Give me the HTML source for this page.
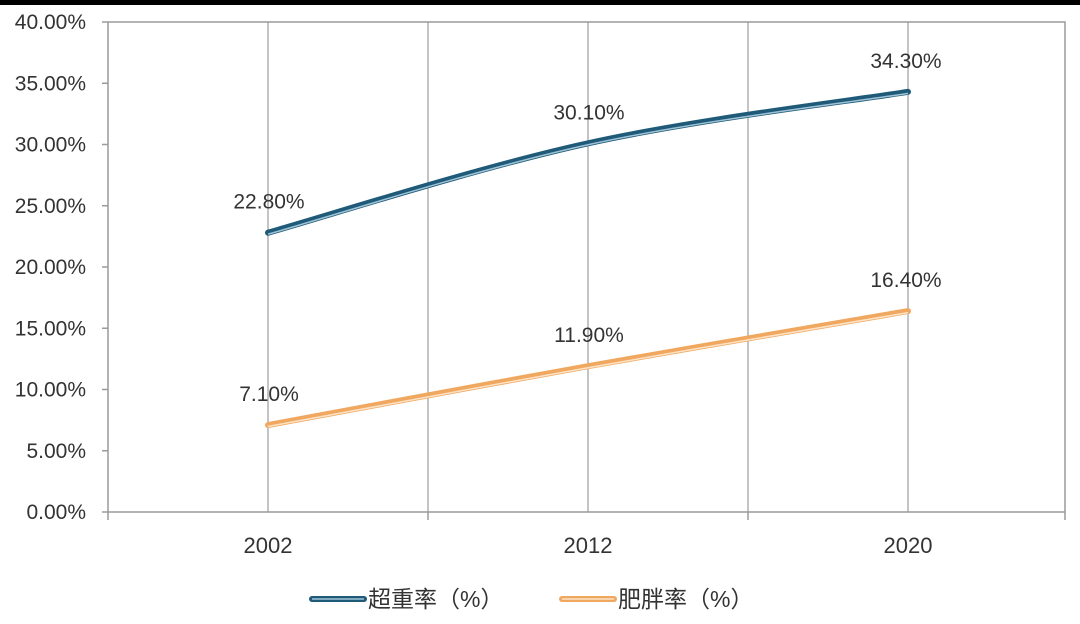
<!DOCTYPE html>
<html><head><meta charset="utf-8"><style>
body{margin:0;background:#fff;width:1080px;height:619px;overflow:hidden}
svg text{font-family:"Liberation Sans","Noto Sans CJK SC",sans-serif;fill:#333}
</style></head><body>
<svg id="chart" width="1080" height="619">
<rect x="0" y="0" width="1080" height="5" fill="#000"/>
<g id="grid"></g><g id="axes"></g><g id="series"></g><g id="labels"></g>
<g>
<g>
<line x1="312" y1="599" x2="364" y2="599" stroke="#1f5a78" stroke-width="6" stroke-linecap="round"/>
<line x1="312" y1="599" x2="364" y2="599" stroke="#9fc3d6" stroke-width="1.5"/>
<text x="368" y="607" font-size="23">超重率（%）</text></g>
<g>
<line x1="562" y1="599" x2="614" y2="599" stroke="#f0a860" stroke-width="6" stroke-linecap="round"/>
<line x1="562" y1="599" x2="614" y2="599" stroke="#fde3c6" stroke-width="1.5"/>
<text x="618" y="607" font-size="23">肥胖率（%）</text></g>
</g>
</svg>
<script>
const categories=["2002","2012","2020"];
const overweight=[22.8,30.1,34.3];
const obesity=[7.1,11.9,16.4];
const yTicks=[0,5,10,15,20,25,30,35,40];
const NS="http://www.w3.org/2000/svg";
const L=108,R=1065,T=22,B=512;
const y=v=>B-(v/40)*(B-T);
const x=i=>268+i*320;
function el(tag,attrs,parent){const e=document.createElementNS(NS,tag);for(const k in attrs)e.setAttribute(k,attrs[k]);parent.appendChild(e);return e;}
const grid=document.getElementById('grid'),axes=document.getElementById('axes'),ser=document.getElementById('series'),lab=document.getElementById('labels');
for(let k=0;k<5;k++){const gx=268+k*160;
const g=el('line',{x1:gx,y1:T,x2:gx,y2:B,stroke:'#b0b0b0','stroke-width':1.5},grid);

}
const fr=el('path',{d:`M${L},${T}H${R}V${B+8}`,fill:'none',stroke:'#9a9a9a','stroke-width':1.5},axes);


const ya=el('line',{x1:L,y1:T,x2:L,y2:B+8,stroke:'#9a9a9a','stroke-width':1.5},axes);


const xa=el('line',{x1:L,y1:B,x2:R,y2:B,stroke:'#9a9a9a','stroke-width':1.5},axes);


for(let k=1;k<3;k++){const t=el('line',{x1:L+k*320,y1:B,x2:L+k*320,y2:B+8,stroke:'#9a9a9a','stroke-width':1.5},axes);

}
yTicks.forEach(v=>{const t=el('line',{x1:L-6,y1:y(v),x2:L,y2:y(v),stroke:'#9a9a9a','stroke-width':1.5},axes);


const tx=el('text',{x:86,y:y(v)+7,'font-size':21,'text-anchor':'end'},axes);tx.textContent=v.toFixed(2)+'%';

});
categories.forEach((c,i)=>{const tx=el('text',{x:x(i),y:553,'font-size':22,'text-anchor':'middle','fill':'#222'},axes);tx.textContent=c;

});
function smooth(vals){const p=vals.map((v,i)=>[x(i),y(v)]);let d=`M${p[0][0]},${p[0][1]}`;
for(let i=0;i<p.length-1;i++){const p0=p[i-1]||p[i],p1=p[i],p2=p[i+1],p3=p[i+2]||p2;const t=0.35;
const c1=[p1[0]+(p2[0]-p0[0])*t/2,p1[1]+(p2[1]-p0[1])*t/2],c2=[p2[0]-(p3[0]-p1[0])*t/2,p2[1]-(p3[1]-p1[1])*t/2];
d+=` C${c1[0]},${c1[1]} ${c2[0]},${c2[1]} ${p2[0]},${p2[1]}`;}return d;}
function draw(vals,dark,light,name){const d=smooth(vals);
const a=el('path',{d,fill:'none',stroke:dark,'stroke-width':6,'stroke-linecap':'round'},ser);


el('path',{d,fill:'none',stroke:light,'stroke-width':1.5,transform:'translate(0,1.5)'},ser);
vals.forEach((v,i)=>{const tx=el('text',{x:x(i)+(i==2?-2:1),y:y(v)-24,'font-size':21,'text-anchor':'middle'},lab);
tx.textContent=v.toFixed(2)+'%';

});}
draw(overweight,'#1f5a78','#9fc3d6','overweight');
draw(obesity,'#f0a860','#fde3c6','obesity');
</script>
</body></html>
